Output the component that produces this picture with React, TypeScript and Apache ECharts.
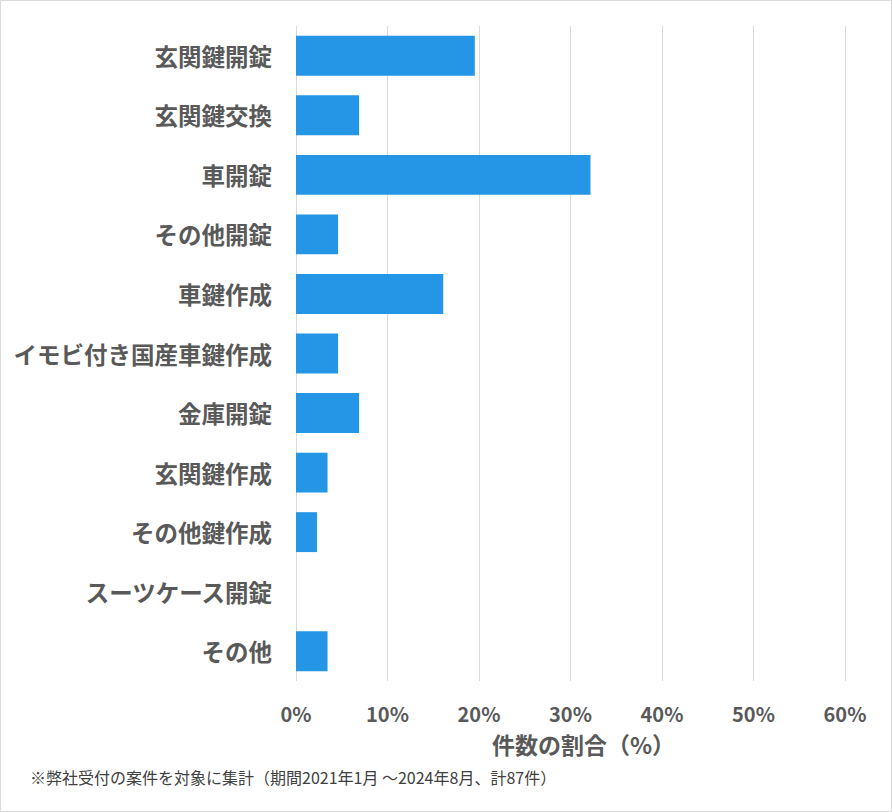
import React, { useEffect, useRef } from "react";
import * as echarts from "echarts";

const categories = [
  "玄関鍵開錠",
  "玄関鍵交換",
  "車開錠",
  "その他開錠",
  "車鍵作成",
  "イモビ付き国産車鍵作成",
  "金庫開錠",
  "玄関鍵作成",
  "その他鍵作成",
  "スーツケース開錠",
  "その他",
];
const counts = [17, 6, 28, 4, 14, 4, 6, 3, 2, 0, 3];
const total = 87;
const shares = counts.map((c) => (c / total) * 100);
const xTicks = [0, 10, 20, 30, 40, 50, 60];
const axisTitle = "件数の割合（%）";
const footnote = "※弊社受付の案件を対象に集計（期間2021年1月 ～2024年8月、計87件）";

const FONT = "'Noto Sans CJK JP', 'Noto Sans', sans-serif";

export default function App() {
  const ref = useRef<HTMLDivElement>(null);
  useEffect(() => {
    if (!ref.current) return;
    const chart = echarts.init(ref.current, undefined, { renderer: "svg" });
    chart.setOption({
      animation: false,
      backgroundColor: "#ffffff",
      textStyle: { fontFamily: FONT },
      grid: { left: 296, top: 26, width: 549, height: 655, containLabel: false },
      xAxis: {
        type: "value",
        min: xTicks[0],
        max: xTicks[xTicks.length - 1],
        interval: 10,
        axisLine: { show: false },
        axisTick: { show: false },
        splitLine: { show: true, lineStyle: { color: "#d9d9d9", width: 1 } },
        axisLabel: {
          formatter: "{value}%",
          color: "#595959",
          fontSize: 20,
          fontWeight: "bold",
          fontFamily: FONT,
          margin: 22,
        },
        name: axisTitle,
        nameLocation: "middle",
        nameGap: 51,
        nameTextStyle: {
          color: "#595959",
          fontSize: 23,
          fontWeight: "bold",
          fontFamily: FONT,
          padding: [0, 0, 0, 26],
        },
      },
      yAxis: {
        type: "category",
        data: categories,
        inverse: true,
        axisLine: { show: false },
        axisTick: { show: false },
        axisLabel: {
          color: "#595959",
          fontSize: 23.5,
          fontWeight: "bold",
          fontFamily: FONT,
          margin: 24,
          padding: [0, 0, 4, 0],
        },
      },
      series: [
        {
          type: "bar",
          data: shares,
          barCategoryGap: "33%",
          itemStyle: { color: "#2595E6" },
        },
      ],
      graphic: [
        {
          type: "rect",
          shape: { x: 0.5, y: 0.5, width: 891, height: 811 },
          style: { fill: "none", stroke: "#d9d9d9", lineWidth: 1 },
          silent: true,
        },
        {
          type: "text",
          left: 30,
          top: 769,
          style: { text: footnote, fill: "#404040", fontSize: 16, fontFamily: FONT },
        },
      ],
    });
    return () => chart.dispose();
  }, []);
  return (
    <div
      ref={ref}
      style={{ position: "absolute", left: 0, top: 0, width: 892, height: 812 }}
    />
  );
}
